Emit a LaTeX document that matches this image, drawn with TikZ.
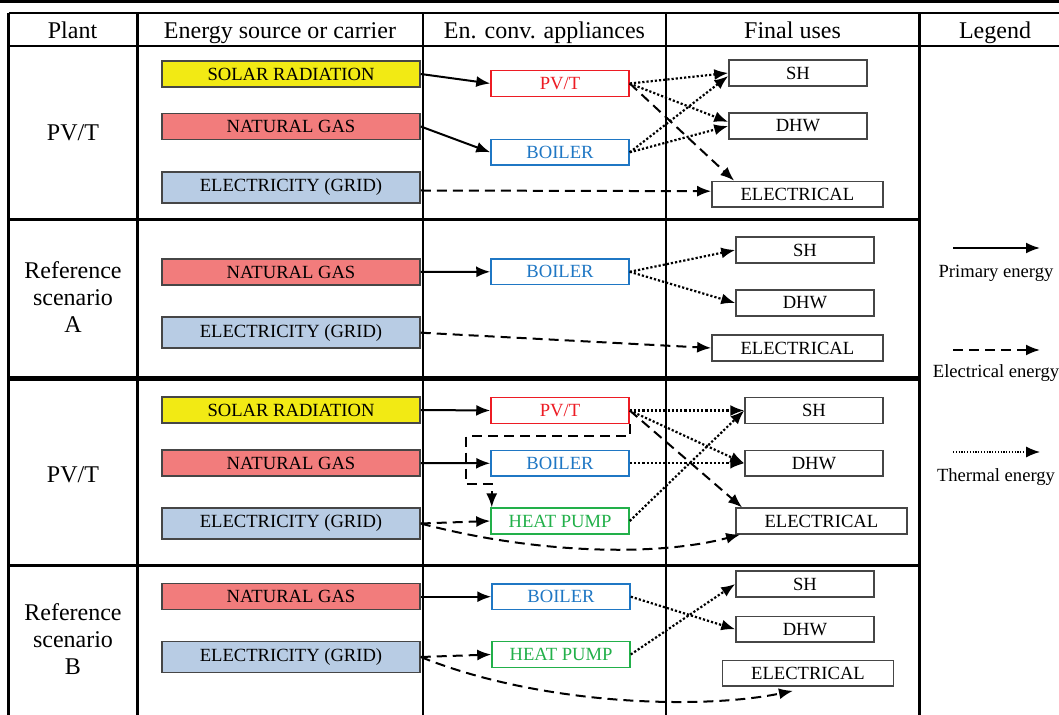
\documentclass[tikz,border=0pt]{standalone}
\usepackage{fontspec}
\setmainfont{Liberation Serif}
\usetikzlibrary{arrows.meta,calc}

\definecolor{solarfill}{RGB}{242,234,20}
\definecolor{gasfill}{RGB}{242,124,124}
\definecolor{gridfill}{RGB}{184,204,228}
\definecolor{pvtred}{RGB}{237,28,36}
\definecolor{boilblue}{RGB}{31,119,196}
\definecolor{hpgreen}{RGB}{34,176,74}
\definecolor{edgegray}{RGB}{70,70,70}

\newcommand{\boxfont}{\fontsize{9.3}{11}\selectfont}
\newcommand{\headfont}{\fontsize{12}{13.3}\selectfont}

\begin{document}
\begin{tikzpicture}[x=0.5pt,y=-0.5pt,>=Latex,
  src/.style={draw=edgegray,line width=0.75pt,minimum width=129pt,minimum height=13pt,inner sep=0pt,font=\boxfont},
  app/.style={draw,line width=0.75pt,fill=white,minimum width=69pt,minimum height=12.8pt,inner sep=0pt,font=\boxfont},
  fin/.style={draw=edgegray,line width=0.75pt,minimum width=69pt,minimum height=12.8pt,inner sep=0pt,font=\boxfont},
  head/.style={font=\headfont,anchor=base,inner sep=0pt},
  prim/.style={line width=1pt,-{Latex[length=7pt,width=5.5pt]}},
  elec/.style={prim,dash pattern=on 5pt off 3pt},
  therm/.style={prim,line width=1.1pt,dash pattern=on 1.1pt off 1pt},
  rule/.style={line width=1.2pt}]
\useasboundingbox (0,0) rectangle (1059,715);

% table
\draw[line width=1.5pt] (0,1.5) -- (1059,1.5);
\draw[rule] (8.5,13) -- (1059,13);
\draw[rule] (8.5,46) -- (1059,46);
\draw[rule] (8.5,13) -- (8.5,715);
\foreach \cx in {137.5,423,666,919.5}
  \draw[rule] (\cx,13) -- (\cx,715);
\draw[rule] (8.5,219.5) -- (919.5,219.5);
\draw[line width=2.5pt] (8.5,379) -- (919.5,379);
\draw[rule] (8.5,565.5) -- (919.5,565.5);

\node[head] (hplant) at (72.5,39) {Plant};
\node[head] (hsrc) at (280,39) {Energy source or carrier};
\node[head] (happ) at (544.5,39) {En. conv. appliances};
\node[head] (huse) at (792.5,39) {Final uses};
\node[head] (hleg) at (995,39) {Legend};

\node[font=\headfont] (plant1) at (73,133) {PV/T};
\node[font=\headfont,align=center] (plant2) at (73,297) {Reference\\scenario\\A};
\node[font=\headfont] (plant3) at (73,475) {PV/T};
\node[font=\headfont,align=center] (plant4) at (73,639) {Reference\\scenario\\B};

% PV/T plant
\node[src,fill=solarfill] (sol1) at (291,74) {SOLAR RADIATION};
\node[src,fill=gasfill] (ng1) at (291,126.5) {NATURAL GAS};
\node[src,fill=gridfill,minimum height=15.5pt] (el1) at (291,187.5) {ELECTRICITY (GRID)};
\node[app,draw=pvtred,text=pvtred] (pv1) at (560,83.5) {PV/T};
\node[app,draw=boilblue,text=boilblue] (bo1) at (560,152.3) {BOILER};
\node[fin] (sh1) at (798,73) {SH};
\node[fin] (dhw1) at (798,126) {DHW};
\node[fin,minimum width=85.5pt] (e1) at (797.4,194.2) {ELECTRICAL};

\draw[prim] (sol1.east) -- (pv1.west);
\draw[prim] (ng1.east) -- (bo1.west);
\draw[elec] ($(el1.east)+(0,3)$) -- ($(e1.west)+(0,-3)$);
\draw[therm] (pv1.east) -- (sh1.west);
\draw[therm] (pv1.east) -- ($(dhw1.west)+(0,-4)$);
\draw[therm] (bo1.east) -- ($(sh1.west)+(0,3)$);
\draw[therm] (bo1.east) -- (dhw1.west);
\draw[elec] (pv1.east) -- ($(e1.north west)+(23,0)$);

% reference scenario A
\node[src,fill=gasfill] (ng2) at (291,272) {NATURAL GAS};
\node[src,fill=gridfill,minimum height=15.5pt] (el2) at (291,332.7) {ELECTRICITY (GRID)};
\node[app,draw=boilblue,text=boilblue] (bo2) at (560,271.8) {BOILER};
\node[fin] (sh2) at (805,250) {SH};
\node[fin] (dhw2) at (805,303) {DHW};
\node[fin,minimum width=85.5pt] (e2) at (797.4,348) {ELECTRICAL};

\draw[prim] (ng2.east) -- (bo2.west);
\draw[elec] (el2.east) -- (e2.west);
\draw[therm] (bo2.east) -- (sh2.west);
\draw[therm] (bo2.east) -- (dhw2.west);

% PV/T plant with heat pump
\node[src,fill=solarfill] (sol3) at (291,410) {SOLAR RADIATION};
\node[src,fill=gasfill] (ng3) at (291,463) {NATURAL GAS};
\node[src,fill=gridfill,minimum height=15.5pt] (el3) at (291,523.5) {ELECTRICITY (GRID)};
\node[app,draw=pvtred,text=pvtred] (pv3) at (560,410.5) {PV/T};
\node[app,draw=boilblue,text=boilblue] (bo3) at (560,463.3) {BOILER};
\node[app,draw=hpgreen,text=hpgreen] (hp3) at (560,521) {HEAT PUMP};
\node[fin] (sh3) at (814,410.5) {SH};
\node[fin] (dhw3) at (814,463.3) {DHW};
\node[fin,minimum width=85.5pt] (e3) at (821.4,521) {ELECTRICAL};

\draw[prim] (sol3.east) -- (pv3.west);
\draw[prim] (ng3.east) -- (bo3.west);
\draw[elec] (el3.east) -- (hp3.west);
\draw[elec] (el3.east) .. controls (540,555) and (660,556) .. ($(e3.south west)+(5,0)$);
\draw[elec] (pv3.south east) -- ++(0,12) -| ($(pv3.south west)+(-24,60)$)
  -| ($(hp3.north west)+(1.5,0)$);
\draw[therm] (pv3.east) -- (sh3.west);
\draw[therm] (pv3.east) -- (dhw3.west);
\draw[elec] (pv3.east) -- ($(e3.north west)+(7,0)$);
\draw[therm] (bo3.east) -- (dhw3.west);
\draw[therm] (hp3.east) -- (sh3.west);

% reference scenario B
\node[src,fill=gasfill] (ng4) at (291,596.7) {NATURAL GAS};
\node[src,fill=gridfill,minimum height=15.5pt] (el4) at (291,657) {ELECTRICITY (GRID)};
\node[app,draw=boilblue,text=boilblue] (bo4) at (561,596.7) {BOILER};
\node[app,draw=hpgreen,text=hpgreen] (hp4) at (561,654.5) {HEAT PUMP};
\node[fin] (sh4) at (805,584) {SH};
\node[fin] (dhw4) at (805,629.3) {DHW};
\node[fin,minimum width=85.5pt] (e4) at (808,673.3) {ELECTRICAL};

\draw[prim] (ng4.east) -- (bo4.west);
\draw[elec] (el4.east) -- (hp4.west);
\draw[elec] (el4.east) .. controls (540,705) and (700,710) .. ($(e4.south)+(-15,4)$);
\draw[therm] (bo4.east) -- (dhw4.west);
\draw[therm] (hp4.east) -- (sh4.west);

% legend
\coordinate (lgp0) at (953,248);
\coordinate (lgp1) at (1040,248);
\coordinate (lge0) at (953,350);
\coordinate (lge1) at (1040,350);
\coordinate (lgt0) at (953,452);
\coordinate (lgt1) at (1040,452);
\draw[prim] (lgp0) -- (lgp1);
\draw[elec] (lge0) -- (lge1);
\draw[therm,line width=0.6pt,dash pattern=on 0.6pt off 0.8pt] (lgt0) -- (lgt1);
\node[font=\boxfont] (lgprim) at (996,273) {Primary energy};
\node[font=\boxfont] (lgelec) at (996,373) {Electrical energy};
\node[font=\boxfont] (lgtherm) at (996,477) {Thermal energy};
\end{tikzpicture}
\end{document}
